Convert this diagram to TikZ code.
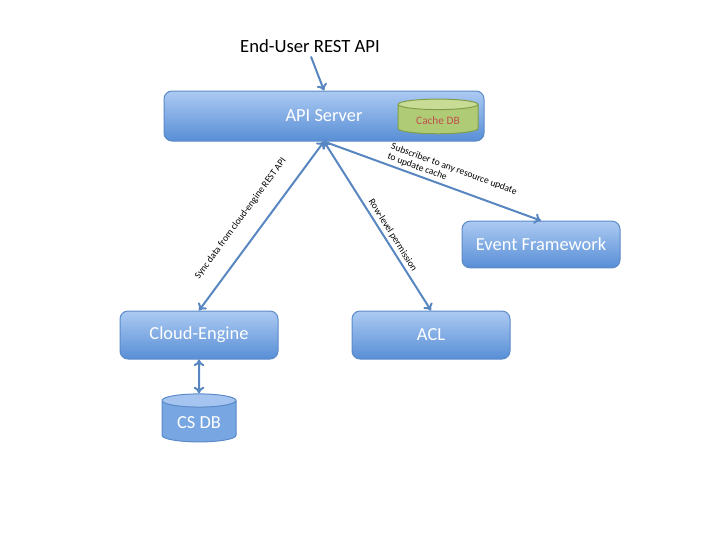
\documentclass[tikz,border=0pt]{standalone}
\usepackage{fontspec}
\setmainfont{Carlito}
\usetikzlibrary{arrows.meta,shapes.geometric}

\definecolor{boxtop}{RGB}{172,202,242}
\definecolor{boxbot}{RGB}{88,142,214}
\definecolor{boxline}{RGB}{90,138,200}
\definecolor{linkblue}{RGB}{88,134,192}
\definecolor{cachebody}{RGB}{176,203,118}
\definecolor{cacheend}{RGB}{200,220,150}
\definecolor{cacheline}{RGB}{128,158,72}
\definecolor{cachetext}{RGB}{192,80,77}
\definecolor{dbbody}{RGB}{120,166,226}
\definecolor{dbend}{RGB}{165,197,240}

\tikzset{every picture/.style={line width=0.75pt}}
\tikzset{
  blockbox/.style={draw=boxline, rounded corners=6pt, top color=boxtop, bottom color=boxbot,
    text=white, font=\fontsize{13.8}{16}\selectfont, minimum width=118.5pt, minimum height=36pt},
  dbstore/.style={cylinder, shape border rotate=90, aspect=0.25, draw=boxline,
    cylinder uses custom fill, cylinder body fill=dbbody, cylinder end fill=dbend,
    text=white, font=\fontsize{13.8}{16}\selectfont, minimum width=55.5pt, minimum height=36pt},
  link/.style={draw=linkblue, line width=1.5pt, {To[length=5pt,width=8pt]}-{To[length=5pt,width=8pt]}},
  onelink/.style={draw=linkblue, line width=1.5pt, -{To[length=5pt,width=8pt]}},
  linklabel/.style={font=\fontsize{7.2}{8}\selectfont, anchor=south, inner xsep=0pt, inner ysep=2pt}
}

\begin{document}
\begin{tikzpicture}[x=0.75pt,y=0.75pt,yscale=-1,xscale=1]
\useasboundingbox (0,0) rectangle (720,540);

% Text Node
\node (user) [font=\fontsize{14}{16}\selectfont, inner sep=0.75pt] at (310,46) {End-User REST API};
% Boxes
\node (api) [blockbox, minimum width=240pt, minimum height=37.5pt] at (324,116) {API Server};
\node (cache) [cylinder, shape border rotate=90, aspect=0.2, draw=cacheline,
  cylinder uses custom fill, cylinder body fill=cachebody, cylinder end fill=cacheend,
  text=cachetext, font=\fontsize{8.5}{10}\selectfont, minimum width=60pt, minimum height=26pt] at (438,120.5) {Cache DB};
\node (cloud) [blockbox] at (199,335) {Cloud-Engine};
\node (acl) [blockbox] at (431,335) {ACL};
\node (event) [blockbox, minimum height=35pt] at (541,244.5) {Event Framework};
\node (csdb) [dbstore] at (199,423) {CS DB};

%Straight Lines
\draw [onelink, shorten <=2pt] (user.south) -- (api.north);
\draw [link] (cloud.north) -- node [linklabel, pos=0.47, rotate=53.7, inner ysep=12pt] {Sync data from cloud-engine REST API} (api.south);
\draw [link] (api.south) -- node [linklabel, pos=0.58, rotate=-57.8] {Row-level permission} (acl.north);
\draw [onelink] (api.south) -- node [linklabel, pos=0.57, rotate=-20.2, align=left] {Subscriber to any resource update\\to update cache} (event.north);
\draw [link] (cloud.south) -- (csdb.north);

\end{tikzpicture}
\end{document}
